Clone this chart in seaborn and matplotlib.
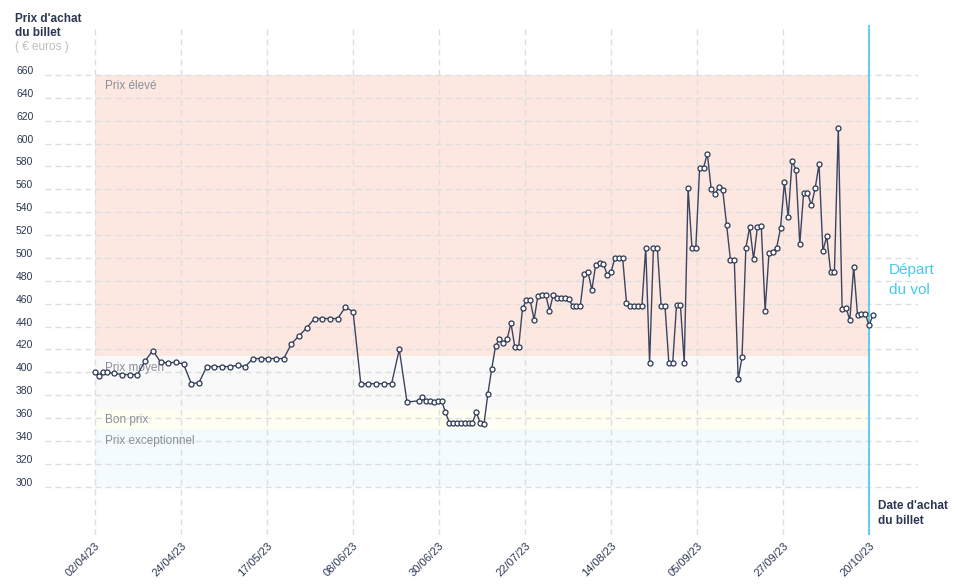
import numpy as np
import pandas as pd
import matplotlib
matplotlib.use('Agg')
import matplotlib.pyplot as plt
import seaborn as sns

# jours depuis le 02/04/23 (relevés tous les 2 jours, puis quotidiens)
jours = [0, 1, 2, 3,
         5, 7, 9, 11, 13, 15, 17, 19, 21, 23,
         25, 27, 29, 31, 33, 35, 37, 39,
         41, 43, 45, 47, 49, 51, 53, 55,
         57, 59, 61, 63, 65, 67, 69, 71, 73, 75, 77, 79, 81,
         84, 85, 86, 87, 88, 89, 90, 91, 92, 93,
         94, 95, 96, 97, 98, 99, 100, 101, 102, 103,
         104, 105, 106, 107, 108, 109, 110, 111, 112, 113,
         114, 115, 116, 117, 118, 119, 120, 121, 122, 123,
         124, 125, 126, 127, 128, 129, 130, 131, 132, 133,
         134, 135, 136, 137, 138, 139, 140, 141, 142, 143,
         144, 145, 146, 147, 148, 149, 150, 151, 152, 153,
         154, 155, 156, 157, 158, 159, 160, 161, 162, 163,
         164, 165, 166, 167, 168, 169, 170, 171, 172, 173,
         174, 175, 176, 177, 178, 179, 180, 181, 182, 183,
         184, 185, 186, 187, 188, 189, 190, 191, 192, 193,
         194, 195, 196, 197, 198, 199, 200, 201, 202]

prix = [400, 397, 400, 400,
        399, 398, 398, 398, 410, 419, 409, 408, 409, 407,
        390, 391, 405, 405, 405, 405, 406, 405,
        412, 412, 412, 412, 412, 425, 432, 439,
        447, 447, 447, 447, 457, 453, 390, 390, 390, 390, 390, 420, 374,
        375, 378, 375, 375, 374, 375, 375, 365, 356, 356,
        356, 356, 356, 356, 356, 365, 356, 355, 381, 403,
        423, 429, 426, 429, 443, 422, 422, 456, 463, 463,
        446, 467, 468, 468, 454, 468, 465, 465, 465, 464,
        458, 458, 458, 486, 488, 472, 494, 496, 495, 485,
        488, 500, 500, 500, 461, 458, 458, 458, 458, 509,
        408, 509, 509, 458, 458, 408, 408, 459, 459, 408,
        561, 509, 509, 579, 579, 591, 560, 556, 562, 559,
        529, 498, 498, 394, 413, 509, 527, 499, 527, 528,
        454, 504, 505, 509, 526, 566, 536, 585, 577, 512,
        557, 557, 546, 561, 582, 506, 519, 488, 488, 614,
        455, 456, 446, 492, 450, 451, 451, 441, 450]

date_labels = ['02/04/23', '24/04/23', '17/05/23', '08/06/23', '30/06/23',
               '22/07/23', '14/08/23', '05/09/23', '27/09/23', '20/10/23']
y_ticks = [300, 320, 340, 360, 380, 400, 420, 440, 460, 480,
           500, 520, 540, 560, 580, 600, 620, 640, 660]

zones = ['Prix exceptionnel', 'Bon prix', 'Prix moyen', 'Prix élevé']
zone_bas = [300, 350, 368, 414]
zone_haut = [350, 368, 414, 660]
zone_couleurs = ['#f3fbfe', '#fefef2', '#f9f9f9', '#fde7e1']

depart = 201  # 20/10/23

navy = '#2b3752'
cyan = '#45c8ef'

sns.set_style('white')
plt.rcParams['font.family'] = ['Liberation Sans', 'DejaVu Sans']

df = pd.DataFrame({'jour': jours, 'prix': prix})

fig = plt.figure(figsize=(9.58, 5.85), dpi=100)
ax = fig.add_axes([45 / 958, 50 / 585, 873 / 958, 510 / 585])

# zones de prix
for nom, bas, haut, couleur in zip(zones, zone_bas, zone_haut, zone_couleurs):
    ax.fill_between([0, depart], bas, haut, color=couleur, lw=0, zorder=0.2)
    ax.text(2.6, haut - 10, nom, color='#8a8f9a', fontsize=8.5,
            va='center', ha='left', zorder=1.5)

sns.lineplot(data=df, x='jour', y='prix', ax=ax, estimator=None,
             color='#3a4660', lw=1, marker='o', markersize=3.6,
             markerfacecolor='white', markeredgecolor=navy,
             markeredgewidth=0.9, zorder=3)

ax.axvline(depart, color=cyan, lw=1.2, zorder=2.5)

ax.set_xlim(-13.0, 213.7)
ax.set_ylim(257.7, 703.7)
ax.set_yticks(y_ticks)
ax.set_yticklabels([])
ax.set_xticks(np.linspace(0, depart, len(date_labels)))
ax.set_xticklabels(date_labels, rotation=45, ha='right',
                   rotation_mode='anchor', fontsize=8, color=navy)
ax.tick_params(length=0)
ax.tick_params(axis='x', pad=4)
ax.grid(True, ls=(0, (4.3, 2.9)), color='#dedede', lw=1)
ax.set_axisbelow(True)
ax.set_xlabel('')
ax.set_ylabel('')
for s in ax.spines.values():
    s.set_visible(False)

# etiquettes de l'axe y, légèrement au-dessus des lignes
for v in y_ticks:
    ax.text(-0.0332, v + 3.5, str(v), transform=ax.get_yaxis_transform(),
            ha='left', va='center', fontsize=7.5, color=navy)

fig.text(15 / 958, 1 - 19 / 585, "Prix d'achat", fontsize=8.5,
         weight='bold', color=navy, va='center')
fig.text(15 / 958, 1 - 33 / 585, "du billet", fontsize=8.5,
         weight='bold', color=navy, va='center')
fig.text(15 / 958, 1 - 47 / 585, "( € euros )", fontsize=8.5,
         color='#bdbdbd', va='center')

fig.text(878 / 958, 1 - 506 / 585, "Date d'achat", fontsize=8.5,
         weight='bold', color=navy, va='center')
fig.text(878 / 958, 1 - 521 / 585, "du billet", fontsize=8.5,
         weight='bold', color=navy, va='center')

fig.text(889 / 958, 1 - 270 / 585, "Départ", fontsize=11,
         color=cyan, va='center')
fig.text(889 / 958, 1 - 290 / 585, "du vol", fontsize=11,
         color=cyan, va='center')

fig.savefig('out.png', dpi=100)
